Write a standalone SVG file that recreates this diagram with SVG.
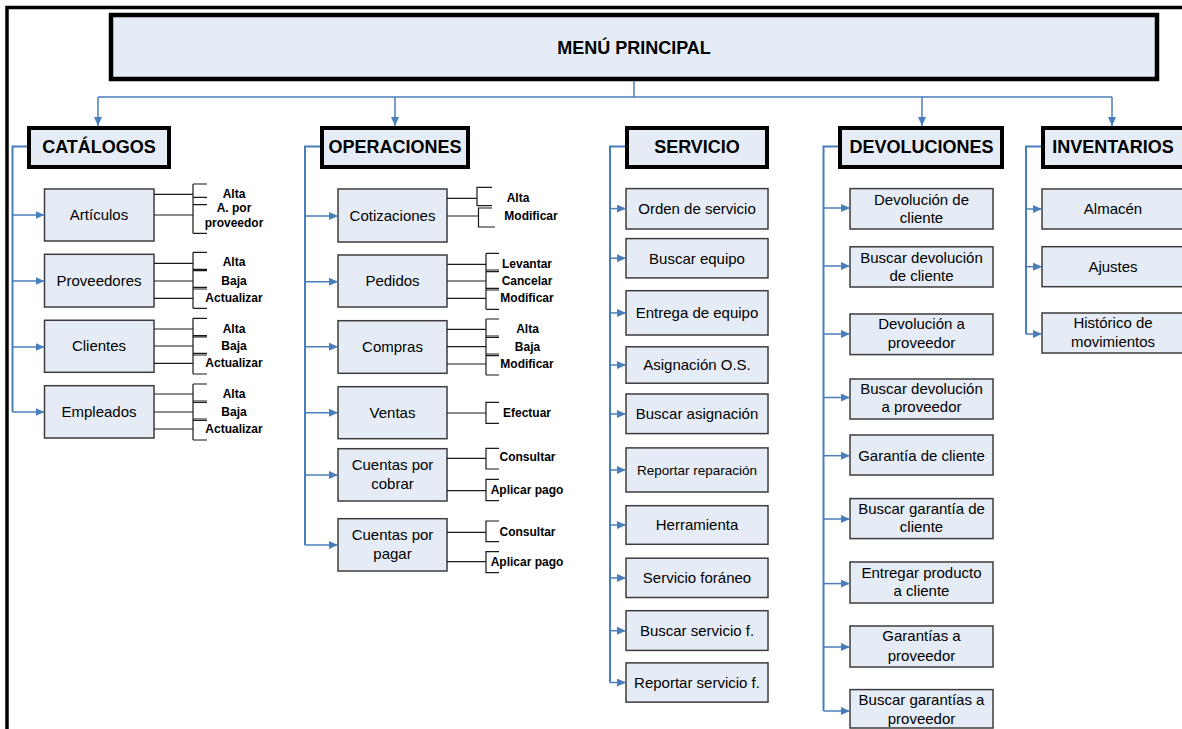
<svg xmlns="http://www.w3.org/2000/svg" width="1182" height="729" viewBox="0 0 1182 729">
<defs>
<marker id="ar" markerUnits="userSpaceOnUse" markerWidth="9" markerHeight="8" refX="9" refY="4" orient="auto">
<path d="M0,0 L9,4 L0,8 z" fill="#4A7EBB"/>
</marker>
<style>
.bg{fill:#fff}
.frame{fill:none;stroke:#000;stroke-width:3.5}
.main rect{fill:#E5ECF6;stroke:#000;stroke-width:4.5}
.hdr rect{fill:#E5ECF6;stroke:#000;stroke-width:4}
.item rect{fill:#E5ECF6;stroke:#3c3c3c;stroke-width:1.5}
.ht{font-family:"Liberation Sans",Arial,sans-serif;font-weight:bold;font-size:18px;text-anchor:middle;fill:#000}
.it{font-family:"Liberation Sans",Arial,sans-serif;font-size:15px;text-anchor:middle;fill:#000}
.lb{font-family:"Liberation Sans",Arial,sans-serif;font-weight:bold;font-size:12px;text-anchor:middle;fill:#000}
.sp{fill:none;stroke:#4A7EBB;stroke-width:2}
.br{fill:none;stroke:#4A7EBB;stroke-width:1.5;marker-end:url(#ar)}
.bk{fill:none;stroke:#1a1a1a;stroke-width:1.2}
</style>
</defs>
<rect class="bg" x="0" y="0" width="1182" height="729"/>
<path class="frame" d="M7,729 V7.5 H1182"/>

<g id="menu-principal" class="main">
<rect x="111" y="15" width="1046" height="64"/>
<text class="ht" x="634" y="53.5">MENÚ PRINCIPAL</text>
</g>

<g id="catalogos" class="hdr"><rect x="29" y="128" width="140" height="39"/><text class="ht" x="99" y="153">CATÁLOGOS</text></g>
<g id="operaciones" class="hdr"><rect x="322" y="128" width="146" height="39"/><text class="ht" x="395" y="153">OPERACIONES</text></g>
<g id="servicio" class="hdr"><rect x="627" y="128" width="140" height="39"/><text class="ht" x="697" y="153">SERVICIO</text></g>
<g id="devoluciones" class="hdr"><rect x="840" y="128" width="162" height="39"/><text class="ht" x="921.5" y="153">DEVOLUCIONES</text></g>
<g id="inventarios" class="hdr"><rect x="1043" y="128" width="150" height="39"/><text class="ht" x="1113" y="153">INVENTARIOS</text></g>

<!-- Catálogos items -->
<g id="articulos" class="item"><rect x="44.5" y="189" width="109.5" height="52"/><text class="it" x="99" y="220">Artículos</text></g>
<g id="proveedores" class="item"><rect x="44.5" y="254.3" width="109.5" height="52.7"/><text class="it" x="99" y="286">Proveedores</text></g>
<g id="clientes" class="item"><rect x="44.5" y="320.3" width="109.5" height="52"/><text class="it" x="99" y="351">Clientes</text></g>
<g id="empleados" class="item"><rect x="44.5" y="385.7" width="109.5" height="52.3"/><text class="it" x="99" y="417">Empleados</text></g>

<!-- Operaciones items -->
<g id="cotizaciones" class="item"><rect x="338" y="189" width="109" height="53"/><text class="it" x="392.5" y="221">Cotizaciones</text></g>
<g id="pedidos" class="item"><rect x="338" y="255" width="109" height="52"/><text class="it" x="392.5" y="286">Pedidos</text></g>
<g id="compras" class="item"><rect x="338" y="320.7" width="109" height="52.6"/><text class="it" x="392.5" y="352">Compras</text></g>
<g id="ventas" class="item"><rect x="338" y="386.7" width="109" height="52"/><text class="it" x="392.5" y="417.5">Ventas</text></g>
<g id="cuentas-cobrar" class="item"><rect x="338" y="448.7" width="109" height="52.3"/><text class="it" x="392.5" y="470">Cuentas por</text><text class="it" x="392.5" y="488.5">cobrar</text></g>
<g id="cuentas-pagar" class="item"><rect x="338" y="518.7" width="109" height="52.3"/><text class="it" x="392.5" y="540">Cuentas por</text><text class="it" x="392.5" y="558.5">pagar</text></g>

<!-- Servicio items -->
<g id="orden-servicio" class="item"><rect x="626" y="188.6" width="142" height="40.4"/><text class="it" x="697" y="214">Orden de servicio</text></g>
<g id="buscar-equipo" class="item"><rect x="626" y="238.6" width="142" height="39.3"/><text class="it" x="697" y="263.5">Buscar equipo</text></g>
<g id="entrega-equipo" class="item"><rect x="626" y="290.7" width="142" height="44.3"/><text class="it" x="697" y="318">Entrega de equipo</text></g>
<g id="asignacion-os" class="item"><rect x="626" y="346.8" width="142" height="36.4"/><text class="it" x="697" y="370">Asignación O.S.</text></g>
<g id="buscar-asignacion" class="item"><rect x="626" y="394" width="142" height="39.6"/><text class="it" x="697" y="419">Buscar asignación</text></g>
<g id="reportar-reparacion" class="item"><rect x="626" y="447.9" width="142" height="44.1"/><text class="it" x="697" y="474.5" style="font-size:13.5px">Reportar reparación</text></g>
<g id="herramienta" class="item"><rect x="626" y="505.7" width="142" height="38.6"/><text class="it" x="697" y="530">Herramienta</text></g>
<g id="servicio-foraneo" class="item"><rect x="626" y="558.2" width="142" height="39.3"/><text class="it" x="697" y="583">Servicio foráneo</text></g>
<g id="buscar-servicio-f" class="item"><rect x="626" y="610.7" width="142" height="39.7"/><text class="it" x="697" y="636">Buscar servicio f.</text></g>
<g id="reportar-servicio-f" class="item"><rect x="626" y="662.9" width="142" height="39.2"/><text class="it" x="697" y="687.5">Reportar servicio f.</text></g>

<!-- Devoluciones items -->
<g id="devolucion-cliente" class="item"><rect x="850" y="188.6" width="143" height="40.4"/><text class="it" x="921.5" y="205">Devolución de</text><text class="it" x="921.5" y="223">cliente</text></g>
<g id="buscar-devolucion-cliente" class="item"><rect x="850" y="246.8" width="143" height="40.2"/><text class="it" x="921.5" y="262.5">Buscar devolución</text><text class="it" x="921.5" y="281">de cliente</text></g>
<g id="devolucion-proveedor" class="item"><rect x="850" y="314" width="143" height="40.6"/><text class="it" x="921.5" y="329">Devolución a</text><text class="it" x="921.5" y="348">proveedor</text></g>
<g id="buscar-devolucion-proveedor" class="item"><rect x="850" y="379" width="143" height="40"/><text class="it" x="921.5" y="393.6">Buscar devolución</text><text class="it" x="921.5" y="411.8">a proveedor</text></g>
<g id="garantia-cliente" class="item"><rect x="850" y="435" width="143" height="40"/><text class="it" x="921.5" y="460.7">Garantía de cliente</text></g>
<g id="buscar-garantia-cliente" class="item"><rect x="850" y="498.6" width="143" height="40"/><text class="it" x="921.5" y="513.6">Buscar garantía de</text><text class="it" x="921.5" y="532">cliente</text></g>
<g id="entregar-producto" class="item"><rect x="850" y="562" width="143" height="41"/><text class="it" x="921.5" y="578">Entregar producto</text><text class="it" x="921.5" y="596">a cliente</text></g>
<g id="garantias-proveedor" class="item"><rect x="850" y="626" width="143" height="41"/><text class="it" x="921.5" y="641">Garantías a</text><text class="it" x="921.5" y="660.7">proveedor</text></g>
<g id="buscar-garantias-proveedor" class="item"><rect x="850" y="689.6" width="143" height="38.4"/><text class="it" x="921.5" y="705">Buscar garantías a</text><text class="it" x="921.5" y="724">proveedor</text></g>

<!-- Inventarios items -->
<g id="almacen" class="item"><rect x="1042" y="189" width="145" height="40"/><text class="it" x="1113" y="214">Almacén</text></g>
<g id="ajustes" class="item"><rect x="1042" y="246.7" width="145" height="40"/><text class="it" x="1113" y="271.7">Ajustes</text></g>
<g id="historico" class="item"><rect x="1042" y="313" width="145" height="40"/><text class="it" x="1113" y="328">Histórico de</text><text class="it" x="1113" y="347">movimientos</text></g>

<!-- leaf labels -->
<g id="labels-catalogos">
<text class="lb" x="234" y="198.3">Alta</text><text class="lb" x="234" y="212.3">A. por</text><text class="lb" x="234" y="226.7">proveedor</text>
<text class="lb" x="234" y="266.3">Alta</text><text class="lb" x="234" y="284.7">Baja</text><text class="lb" x="234" y="302">Actualizar</text>
<text class="lb" x="234" y="332.7">Alta</text><text class="lb" x="234" y="349.7">Baja</text><text class="lb" x="234" y="367.3">Actualizar</text>
<text class="lb" x="234" y="397.7">Alta</text><text class="lb" x="234" y="415.7">Baja</text><text class="lb" x="234" y="432.7">Actualizar</text>
</g>
<g id="labels-operaciones">
<text class="lb" x="518" y="202">Alta</text><text class="lb" x="531" y="219.7">Modificar</text>
<text class="lb" x="527" y="268">Levantar</text><text class="lb" x="527" y="284.7">Cancelar</text><text class="lb" x="527" y="302.3">Modificar</text>
<text class="lb" x="527.5" y="333.3">Alta</text><text class="lb" x="527.5" y="350.7">Baja</text><text class="lb" x="527" y="367.7">Modificar</text>
<text class="lb" x="527" y="416.7">Efectuar</text>
<text class="lb" x="527.5" y="461.3">Consultar</text><text class="lb" x="527" y="494">Aplicar pago</text>
<text class="lb" x="527.5" y="535.7">Consultar</text><text class="lb" x="527" y="565.7">Aplicar pago</text>
</g>

<g id="connectors">
<!-- main -->
<path class="sp" style="stroke-width:1.5" d="M634,81 V97 M98,97 H1112"/>
<path class="br" d="M98,97 V126"/>
<path class="br" d="M395,97 V126"/>
<path class="br" d="M922,97 V126"/>
<path class="br" d="M1112,97 V126"/>
<!-- spines -->
<path class="sp" d="M27,146.5 H12.5 V412"/>
<path class="sp" d="M320,146.5 H305 V545"/>
<path class="sp" d="M625,146.5 H610 V682.5"/>
<path class="sp" d="M838,146.5 H823.5 V711"/>
<path class="sp" d="M1041,146.5 H1026 V334"/>
<!-- catalogos arrows -->
<path class="br" d="M12.5,215 H44.5"/>
<path class="br" d="M12.5,281 H44.5"/>
<path class="br" d="M12.5,347 H44.5"/>
<path class="br" d="M12.5,412 H44.5"/>
<!-- operaciones arrows -->
<path class="br" d="M305,216 H338"/>
<path class="br" d="M305,281.7 H338"/>
<path class="br" d="M305,346.7 H338"/>
<path class="br" d="M305,412.7 H338"/>
<path class="br" d="M305,475 H338"/>
<path class="br" d="M305,545 H338"/>
<!-- servicio arrows -->
<path class="br" d="M610,208.6 H626"/>
<path class="br" d="M610,258.2 H626"/>
<path class="br" d="M610,312.9 H626"/>
<path class="br" d="M610,365 H626"/>
<path class="br" d="M610,414 H626"/>
<path class="br" d="M610,470 H626"/>
<path class="br" d="M610,525 H626"/>
<path class="br" d="M610,577.9 H626"/>
<path class="br" d="M610,630.7 H626"/>
<path class="br" d="M610,682.5 H626"/>
<!-- devoluciones arrows -->
<path class="br" d="M823.5,208 H850"/>
<path class="br" d="M823.5,266 H850"/>
<path class="br" d="M823.5,334 H850"/>
<path class="br" d="M823.5,397.5 H850"/>
<path class="br" d="M823.5,455.7 H850"/>
<path class="br" d="M823.5,519 H850"/>
<path class="br" d="M823.5,583.6 H850"/>
<path class="br" d="M823.5,647 H850"/>
<path class="br" d="M823.5,711 H850"/>
<!-- inventarios arrows -->
<path class="br" d="M1026,209 H1042"/>
<path class="br" d="M1026,266.7 H1042"/>
<path class="br" d="M1026,334 H1042"/>
<!-- catalogos brackets -->
<path class="bk" d="M154,194.3 H193 M154,215 H193 M193,184 V233.3 M193,184 H207 M193,197.3 H207 M193,204.7 H207 M193,233.3 H207"/>
<path class="bk" d="M154,263.3 H193 M154,281 H193 M154,298.3 H193 M193,252.3 V308.3 M193,252.3 H207 M193,269.3 H207 M193,270.7 H207 M193,287.3 H207 M193,289 H207 M193,308.3 H207"/>
<path class="bk" d="M154,329 H193 M154,346 H193 M154,363.3 H193 M193,318.3 V374 M193,318.3 H207 M193,335.7 H207 M193,337 H207 M193,353.3 H207 M193,355 H207 M193,374 H207"/>
<path class="bk" d="M154,394 H193 M154,412 H193 M154,429 H193 M193,384 V440 M193,384 H207 M193,401 H207 M193,402.5 H207 M193,419 H207 M193,420.5 H207 M193,440 H207"/>
<!-- operaciones brackets -->
<path class="bk" d="M447,198.3 H477 M447,216 H478.5 M492,187.3 H477 V205.7 H492 M492,208 H478.5 V227 H495"/>
<path class="bk" d="M447,264.3 H486 M447,281 H486 M447,298.3 H486 M486,253.3 V309.3 M486,253.3 H499 M486,270 H499 M486,271.7 H499 M486,288.3 H499 M486,290 H499 M486,309.3 H499"/>
<path class="bk" d="M447,329.3 H486 M447,346.7 H486 M447,364 H486 M486,319 V375 M486,319 H499 M486,336 H499 M486,337.5 H499 M486,354 H499 M486,355.7 H499 M486,375 H499"/>
<path class="bk" d="M447,413 H486 M499,402.3 H486 V423.3 H499"/>
<path class="bk" d="M447,458.3 H486 M447,490.7 H486 M499,448.3 H486 V469 H499 M499,479.3 H486 V500.7 H499"/>
<path class="bk" d="M447,532.3 H486 M447,561.7 H486 M499,521 H486 V541.7 H499 M499,551.7 H486 V572.7 H499"/>
</g>
</svg>
